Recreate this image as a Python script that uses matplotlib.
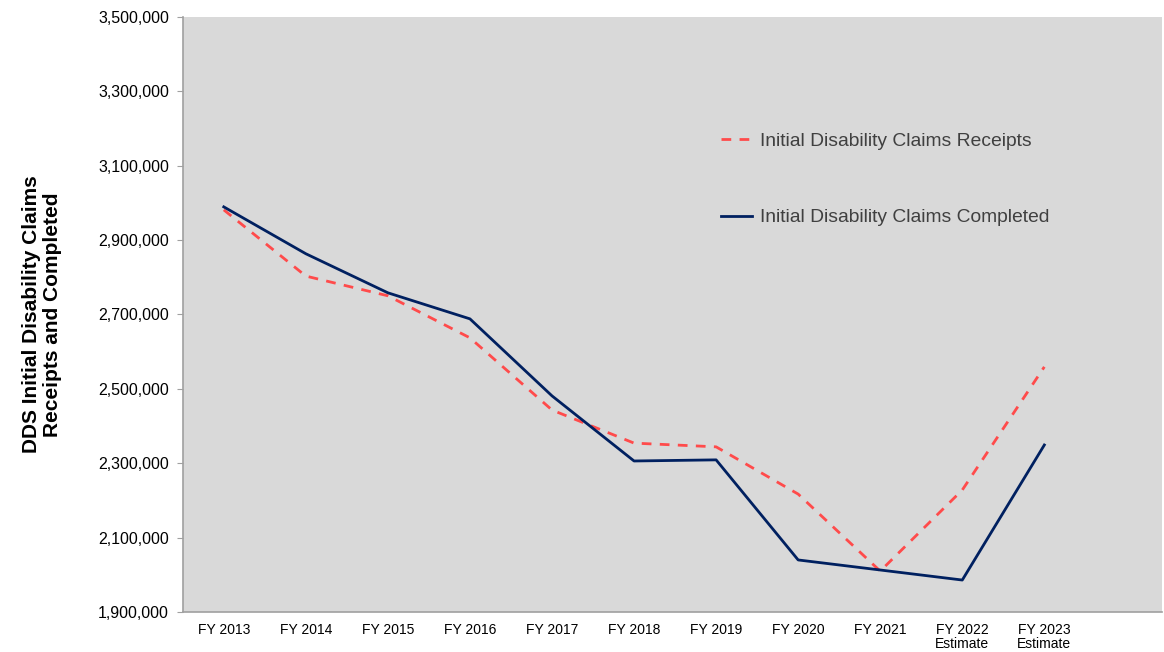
import matplotlib.pyplot as plt
from matplotlib.ticker import FuncFormatter

plt.rcParams['font.family'] = ['Liberation Sans', 'DejaVu Sans']

years = ["FY 2013", "FY 2014", "FY 2015", "FY 2016", "FY 2017", "FY 2018",
         "FY 2019", "FY 2020", "FY 2021", "FY 2022\nEstimate", "FY 2023\nEstimate"]
receipts = [2981000, 2803000, 2750000, 2637000, 2443000, 2354000,
            2344000, 2217000, 2010000, 2228000, 2559000]
completed = [2989000, 2863000, 2758000, 2688000, 2481000, 2306000,
             2309000, 2040000, 2013000, 1986000, 2349000]

fig = plt.figure(figsize=(11.64, 6.52), dpi=100)
ax = fig.add_axes([0.157, 0.0613, 0.841, 0.913])
ax.set_facecolor('#D9D9D9')

x = list(range(len(years)))
ax.plot(x, receipts, color='#FF4B4B', lw=2.0, ls=(0, (3.5, 3)),
        label='Initial Disability Claims Receipts')
ax.plot(x, completed, color='#002060', lw=2.0,
        label='Initial Disability Claims Completed')

ax.set_xlim(-0.5, 11.43)
ax.set_ylim(1900000, 3500000)
ax.set_yticks(range(1900000, 3500001, 200000))
ax.yaxis.set_major_formatter(FuncFormatter(lambda v, p: f"{int(v):,}"))
ax.set_xticks(x)
ax.set_xticklabels(years, fontsize=10, linespacing=1.0)
ax.tick_params(axis='x', length=0, pad=8)
ax.tick_params(axis='y', labelsize=11.5, length=4, color='#A0A0A0', pad=6)

for s in ['top', 'right']:
    ax.spines[s].set_visible(False)
for s in ['left', 'bottom']:
    ax.spines[s].set_color('#A0A0A0')
    ax.spines[s].set_linewidth(1.2)

ax.set_ylabel("DDS Initial Disability Claims\nReceipts and Completed",
              fontsize=15, fontweight='bold', labelpad=26, linespacing=1.1)

leg = ax.legend(loc='upper left', bbox_to_anchor=(0.532, 0.835), frameon=False,
                fontsize=13.9, labelspacing=3.05, handlelength=1.6,
                handletextpad=0.4)
for t in leg.get_texts():
    t.set_color('#404040')

fig.savefig('out.png', dpi=100)
